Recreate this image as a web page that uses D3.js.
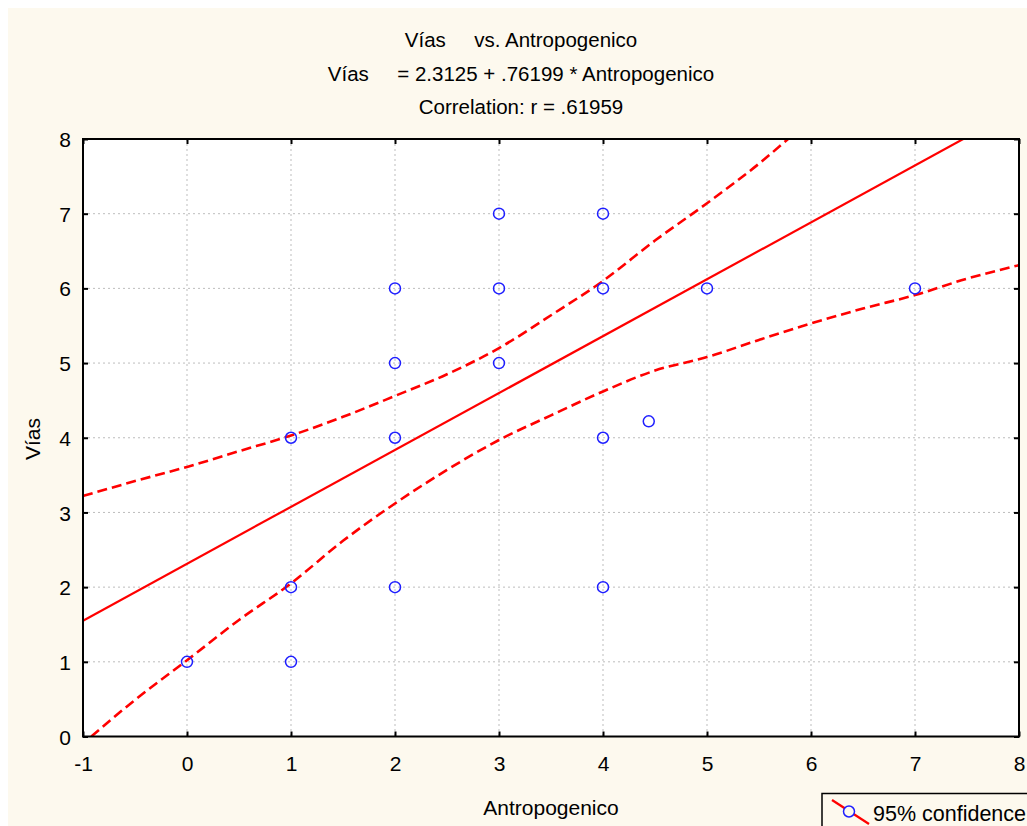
<!DOCTYPE html>
<html>
<head>
<meta charset="utf-8">
<script src="https://cdn.jsdelivr.net/npm/d3@7"></script>
<style>
  body { margin: 0; background: #fff; }
  text { font-family: "Liberation Sans", Arial, sans-serif; fill: #000; }
</style>
</head>
<body>
<div id="chart"></div>
<script>
// scatter points (Antropogenico, Vías)
var antropogenico = [0, 1, 1, 1, 2, 2, 2, 2, 3, 3, 3, 4, 4, 4, 4, 4.44, 5, 7];
var vias          = [1, 1, 2, 4, 2, 4, 5, 6, 5, 6, 7, 2, 4, 6, 7, 4.22, 6, 6];

// regression
var intercept = 2.3125;
var slope = 0.76199;

// 95% confidence band
var upperX = [-1, -0.5, 0, 0.5, 1, 1.5, 2, 2.5, 3, 3.5, 4, 4.5, 5, 5.5, 5.78];
var upperY = [3.22, 3.42, 3.61, 3.82, 4.03, 4.28, 4.56, 4.85, 5.2, 5.64, 6.1, 6.64, 7.14, 7.67, 8.0];
var lowerX = [-0.92, -0.5, 0, 0.5, 1, 1.5, 2, 2.5, 3, 3.5, 4, 4.5, 5, 5.5, 6, 6.5, 7, 7.5, 8];
var lowerY = [0, 0.49, 1.02, 1.56, 2.05, 2.62, 3.12, 3.57, 3.97, 4.3, 4.62, 4.9, 5.08, 5.31, 5.53, 5.73, 5.91, 6.13, 6.31];

var xTicks = [-1, 0, 1, 2, 3, 4, 5, 6, 7, 8];
var yTicks = [0, 1, 2, 3, 4, 5, 6, 7, 8];

var titleLines = ["Vías     vs. Antropogenico", "Vías     = 2.3125 + .76199 * Antropogenico", "Correlation: r = .61959"];

var width = 1027, height = 826;
var plot = { left: 83, right: 1019, top: 139, bottom: 736.5 };
var lineColor = "#ff0000";
var pointColor = "#1f1fff";
var cream = "#fdf9ee";

var svg = d3.select("#chart").append("svg")
    .attr("width", width)
    .attr("height", height);

// cream panel
svg.append("rect")
    .attr("x", 8).attr("y", 8)
    .attr("width", width).attr("height", height)
    .attr("fill", cream);

var x = d3.scaleLinear().domain([-1, 8]).range([plot.left, plot.right]);
var y = d3.scaleLinear().domain([0, 8]).range([plot.bottom, plot.top]);

svg.append("rect")
    .attr("x", plot.left).attr("y", plot.top)
    .attr("width", plot.right - plot.left).attr("height", plot.bottom - plot.top)
    .attr("fill", "#fff");

svg.append("clipPath").attr("id", "clip")
    .append("rect")
    .attr("x", plot.left).attr("y", plot.top)
    .attr("width", plot.right - plot.left).attr("height", plot.bottom - plot.top);

// grid
svg.append("g").selectAll("line")
    .data(xTicks.slice(1, -1))
    .enter().append("line")
    .attr("x1", d => x(d)).attr("x2", d => x(d))
    .attr("y1", plot.top).attr("y2", plot.bottom)
    .attr("stroke", "#bdbdbd").attr("stroke-width", 1).attr("stroke-dasharray", "2,3");
svg.append("g").selectAll("line")
    .data(yTicks.slice(1, -1))
    .enter().append("line")
    .attr("y1", d => y(d)).attr("y2", d => y(d))
    .attr("x1", plot.left).attr("x2", plot.right)
    .attr("stroke", "#bdbdbd").attr("stroke-width", 1).attr("stroke-dasharray", "2,3");

// regression line and band
var g = svg.append("g").attr("clip-path", "url(#clip)");
var line = d3.line().x(d => x(d[0])).y(d => y(d[1]));

g.append("path")
    .datum([-1, 8].map(v => [v, intercept + slope * v]))
    .attr("d", line)
    .attr("fill", "none").attr("stroke", lineColor).attr("stroke-width", 2.2);

g.append("path")
    .datum(upperX.map((v, i) => [v, upperY[i]]))
    .attr("d", line.curve(d3.curveMonotoneX))
    .attr("fill", "none").attr("stroke", lineColor).attr("stroke-width", 2.6)
    .attr("stroke-dasharray", "10,5");

g.append("path")
    .datum(lowerX.map((v, i) => [v, lowerY[i]]))
    .attr("d", line.curve(d3.curveMonotoneX))
    .attr("fill", "none").attr("stroke", lineColor).attr("stroke-width", 2.6)
    .attr("stroke-dasharray", "10,5");

// points
svg.append("g").selectAll("circle")
    .data(antropogenico)
    .enter().append("circle")
    .attr("cx", d => x(d))
    .attr("cy", (d, i) => y(vias[i]))
    .attr("r", 5.5)
    .attr("fill", "none")
    .attr("stroke", pointColor)
    .attr("stroke-width", 1.5);

// axes with inside ticks
var tickLen = 5;
var fmt = d => String(d);
svg.append("g").attr("transform", "translate(0," + plot.bottom + ")")
    .call(d3.axisBottom(x).tickValues(xTicks).tickSizeInner(-tickLen).tickSizeOuter(0).tickFormat(fmt))
    .call(a => a.select(".domain").remove())
    .call(a => a.selectAll("line").attr("stroke-width", 2))
    .call(a => a.selectAll("text").attr("y", 0).attr("dy", 0).attr("transform", "translate(0,34)")
        .style("font-size", "21px").style("font-family", "Liberation Sans, Arial, sans-serif"));
svg.append("g").attr("transform", "translate(0," + plot.top + ")")
    .call(d3.axisTop(x).tickValues(xTicks).tickSizeInner(-tickLen).tickSizeOuter(0).tickFormat(""))
    .call(a => a.select(".domain").remove())
    .call(a => a.selectAll("line").attr("stroke-width", 2));
svg.append("g").attr("transform", "translate(" + plot.left + ",0)")
    .call(d3.axisLeft(y).tickValues(yTicks).tickSizeInner(-tickLen).tickSizeOuter(0).tickFormat(fmt))
    .call(a => a.select(".domain").remove())
    .call(a => a.selectAll("line").attr("stroke-width", 2))
    .call(a => a.selectAll("text").attr("x", -12).attr("dy", "0.36em")
        .style("font-size", "21px").style("font-family", "Liberation Sans, Arial, sans-serif"));
svg.append("g").attr("transform", "translate(" + plot.right + ",0)")
    .call(d3.axisRight(y).tickValues(yTicks).tickSizeInner(-tickLen).tickSizeOuter(0).tickFormat(""))
    .call(a => a.select(".domain").remove())
    .call(a => a.selectAll("line").attr("stroke-width", 2));

// frame
svg.append("rect")
    .attr("x", plot.left).attr("y", plot.top)
    .attr("width", plot.right - plot.left).attr("height", plot.bottom - plot.top)
    .attr("fill", "none").attr("stroke", "#000").attr("stroke-width", 2);

// titles
svg.append("g").selectAll("text")
    .data(titleLines)
    .enter().append("text")
    .attr("x", 521)
    .attr("y", (d, i) => 47 + i * 33.5)
    .attr("text-anchor", "middle")
    .style("font-size", "20.5px")
    .style("white-space", "pre")
    .attr("xml:space", "preserve")
    .text(d => d);

// axis titles
svg.append("text")
    .attr("x", (plot.left + plot.right) / 2)
    .attr("y", 815)
    .attr("text-anchor", "middle")
    .style("font-size", "21px")
    .text("Antropogenico");

svg.append("text")
    .attr("transform", "translate(40,439) rotate(-90)")
    .attr("text-anchor", "middle")
    .style("font-size", "21px")
    .text("Vías");

// legend
var legend = svg.append("g");
legend.append("rect")
    .attr("x", 822).attr("y", 793.5)
    .attr("width", 240).attr("height", 60)
    .attr("fill", cream).attr("stroke", "#000").attr("stroke-width", 1.5);
legend.append("line")
    .attr("x1", 832).attr("y1", 800).attr("x2", 869).attr("y2", 824)
    .attr("stroke", lineColor).attr("stroke-width", 2.2);
legend.append("circle")
    .attr("cx", 849).attr("cy", 811.5).attr("r", 5.5)
    .attr("fill", cream).attr("stroke", pointColor).attr("stroke-width", 1.5);
legend.append("text")
    .attr("x", 873).attr("y", 821)
    .style("font-size", "21.5px")
    .text("95% confidence");
</script>
</body>
</html>
